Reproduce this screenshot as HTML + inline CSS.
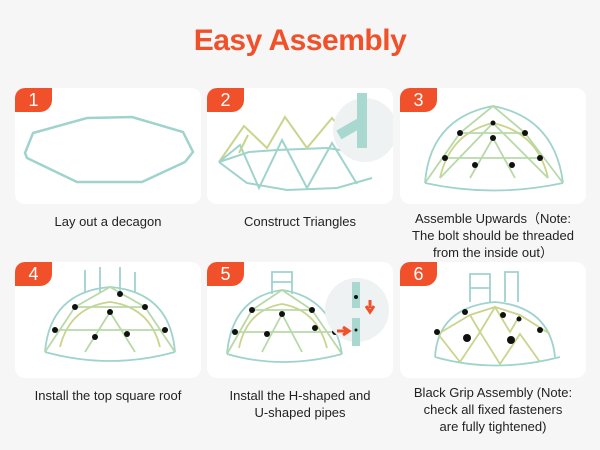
<!DOCTYPE html>
<html><head><meta charset="utf-8"><style>
body{margin:0;width:600px;height:450px;background:#f6f6f6;font-family:"Liberation Sans",sans-serif;position:relative;overflow:hidden}
h1{position:absolute;top:24px;left:0;width:600px;margin:0;text-align:center;color:#f1512a;font-size:30px;font-weight:bold;letter-spacing:-0.5px}
.card{position:absolute;width:186px;height:116px;background:#fff;border-radius:10px;overflow:hidden}
.b{position:absolute;left:0;top:0;width:37px;height:24px;background:#f1512a;color:#fff;font-size:18px;text-align:center;line-height:24px;border-bottom-right-radius:12px}
.t{position:absolute;width:200px;text-align:center;font-size:13px;color:#222;line-height:17px}
svg{position:absolute;left:0;top:0}
</style></head><body>
<h1>Easy Assembly</h1>

<div class="card" style="left:15px;top:88px">
<svg width="186" height="116"><polygon points="18,45 72,30 117,29 168,44 178,64 170,74 127,94 62,94 12,70 10,65" fill="none" stroke="#9fd3cc" stroke-width="2.5"/></svg>
<div class="b">1</div></div>

<div class="card" style="left:207px;top:88px">
<svg width="186" height="116" stroke-width="2" fill="none">
<polyline points="12,74 42,64 70,62 120,60 160,66" stroke="#9fd3cc"/>
<polyline points="12,74 40,95 80,102 130,100 165,90" stroke="#9fd3cc"/>
<polyline points="12,74 37,38 60,60 78,29 100,60 125,30 150,60" stroke="#c9d58c"/>
<polyline points="12,74 33,57 52,100 75,52 100,100 125,55 150,96" stroke="#9fd3cc"/>
<polyline points="32,65 41,47" stroke="#c9d58c"/>
<circle cx="158" cy="42" r="32" fill="#eef2f2" stroke="none"/>
<rect x="130" y="35" width="28" height="10" fill="#a8d8d0" stroke="none" transform="rotate(-30 144 40)"/>
<rect x="150" y="5" width="10" height="55" fill="#a8d8d0" stroke="none"/>
</svg>
<div class="b">2</div></div>

<div class="card" style="left:400px;top:88px">
<svg width="186" height="116" stroke-width="1.8" fill="none">
<path d="M25,95 Q30,30 93,18 Q155,30 163,95" stroke="#9fd3cc"/>
<path d="M40,90 Q50,45 93,35 Q138,45 148,90" stroke="#c9d58c"/>
<path d="M25,95 L60,45 L93,18 L125,45 L163,95 M40,90 L93,35 L148,90 M60,45 L125,45 M45,70 L140,70 M70,90 L93,50 L115,90" stroke="#b7d9a8"/>
<path d="M25,95 Q93,110 163,95" stroke="#9fd3cc"/>
<g fill="#111" stroke="none"><circle cx="60" cy="45" r="3"/><circle cx="125" cy="45" r="3"/><circle cx="45" cy="70" r="3"/><circle cx="140" cy="70" r="3"/><circle cx="93" cy="50" r="3"/><circle cx="75" cy="77" r="3"/><circle cx="112" cy="77" r="3"/><circle cx="93" cy="35" r="2.5"/></g>
</svg>
<div class="b">3</div></div>

<div class="card" style="left:15px;top:262px">
<svg width="186" height="116" stroke-width="1.8" fill="none">
<path d="M70,30 L70,8 M85,30 L85,5 M105,30 L105,5 M120,30 L120,10" stroke="#9fd3cc"/>
<path d="M30,90 Q35,30 95,25 Q155,30 160,90" stroke="#9fd3cc"/>
<path d="M45,85 Q55,45 95,40 Q135,45 145,85" stroke="#c9d58c"/>
<path d="M30,90 L60,45 L95,25 L130,45 L160,90 M60,45 L130,45 M40,68 L150,68 M70,90 L95,50 L120,90" stroke="#b7d9a8"/>
<path d="M30,90 Q95,108 160,90" stroke="#9fd3cc"/>
<g fill="#111" stroke="none"><circle cx="60" cy="45" r="3"/><circle cx="130" cy="45" r="3"/><circle cx="40" cy="68" r="3"/><circle cx="150" cy="68" r="3"/><circle cx="95" cy="50" r="3"/><circle cx="80" cy="75" r="3"/><circle cx="112" cy="72" r="3"/><circle cx="105" cy="32" r="3"/></g>
</svg>
<div class="b">4</div></div>

<div class="card" style="left:207px;top:262px">
<svg width="186" height="116" stroke-width="1.8" fill="none">
<path d="M65,32 L65,10 L85,10 L85,32 M65,20 L85,20" stroke="#9fd3cc"/>
<path d="M20,92 Q25,35 75,28 Q125,35 135,92" stroke="#9fd3cc"/>
<path d="M32,86 Q40,48 75,42 Q110,48 120,86" stroke="#c9d58c"/>
<path d="M20,92 L45,48 L75,28 L105,48 L135,92 M45,48 L105,48 M28,70 L128,70 M55,90 L75,52 L95,90" stroke="#b7d9a8"/>
<path d="M20,92 Q75,108 135,92" stroke="#9fd3cc"/>
<g fill="#111" stroke="none"><circle cx="45" cy="48" r="3"/><circle cx="105" cy="48" r="3"/><circle cx="28" cy="70" r="3"/><circle cx="128" cy="70" r="3"/><circle cx="75" cy="52" r="3"/><circle cx="108" cy="66" r="3"/><circle cx="60" cy="72" r="3"/></g>
<circle cx="150" cy="48" r="32" fill="#eef2f2" stroke="none"/>
<rect x="145" y="20" width="8" height="26" fill="#a8d8d0" stroke="none"/>
<rect x="145" y="56" width="8" height="28" fill="#a8d8d0" stroke="none"/>
<circle cx="149" cy="35" r="2" fill="#111" stroke="none"/><circle cx="149" cy="68" r="1.5" fill="#111" stroke="none"/>
<path d="M163,38 L163,46 M159,44 L163,50 L167,44" stroke="#f1512a" stroke-width="3"/>
<path d="M130,69 L139,69 M136,65 L142,69 L136,73" stroke="#f1512a" stroke-width="3"/>
</svg>
<div class="b">5</div></div>

<div class="card" style="left:400px;top:262px">
<svg width="186" height="116" stroke-width="1.8" fill="none">
<path d="M70,40 L70,12 L90,12 L90,40 M70,26 L90,26 M105,40 L105,10 L118,10 L118,40" stroke="#9fd3cc"/>
<path d="M35,95 Q38,45 95,40 Q150,45 155,95" stroke="#9fd3cc"/>
<path d="M38,72 L70,53 L95,45 L120,53 L150,72 M38,72 L60,100 L80,70 L100,102 L120,72 L140,100 M70,53 L80,70 L95,45 L110,70 L120,53" stroke="#c9d58c"/>
<path d="M35,95 Q95,112 160,95" stroke="#9fd3cc"/>
<g fill="#111" stroke="none"><circle cx="65" cy="50" r="3"/><circle cx="103" cy="53" r="3"/><circle cx="37" cy="70" r="3"/><circle cx="140" cy="68" r="3"/><circle cx="111" cy="78" r="4"/><circle cx="67" cy="76" r="4"/><circle cx="119" cy="57" r="2.5"/></g>
</svg>
<div class="b">6</div></div>

<div class="t" style="left:8px;top:213px">Lay out a decagon</div>
<div class="t" style="left:200px;top:213px">Construct Triangles</div>
<div class="t" style="left:393px;top:210px">Assemble Upwards（Note:<br>The bolt should be threaded<br>from the inside out）</div>
<div class="t" style="left:8px;top:387px">Install the top square roof</div>
<div class="t" style="left:200px;top:387px">Install the H-shaped and<br>U-shaped pipes</div>
<div class="t" style="left:393px;top:384px">Black Grip Assembly (Note:<br>check all fixed fasteners<br>are fully tightened)</div>
</body></html>
